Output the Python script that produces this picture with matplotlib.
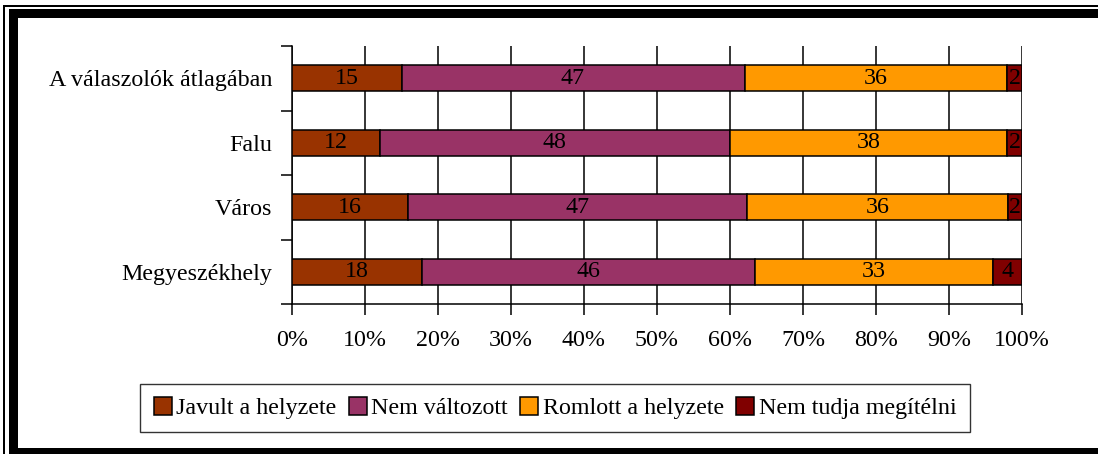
import numpy as np
import matplotlib
matplotlib.use('Agg')
import matplotlib.pyplot as plt
from matplotlib.patches import Rectangle

# ============================================================
# Data
# ============================================================
categories = ['A válaszolók átlagában', 'Falu', 'Város', 'Megyeszékhely']
series_names = ['Javult a helyzete', 'Nem változott', 'Romlott a helyzete', 'Nem tudja megítélni']
javult = [15, 12, 16, 18]
nem_valt = [47, 48, 47, 46]
romlott = [36, 38, 36, 33]
nem_tudja = [2, 2, 2, 4]
colors = ['#993300', '#993366', '#FF9900', '#800000']
xticks = [0, 10, 20, 30, 40, 50, 60, 70, 80, 90, 100]

plt.rcParams['font.family'] = ['Liberation Serif', 'DejaVu Serif']
FS = 17.3

W, H = 1098, 454
fig = plt.figure(figsize=(W / 100, H / 100), dpi=100)

def px(x0, y0, x1, y1):
    # pixel box -> figure fraction rect
    return (x0 / W, 1 - y1 / H), (x1 - x0) / W, (y1 - y0) / H

# outer frame: thin line + thick band
for (x0, y0, x1, y1) in [(3, 5, 4.5, 460), (3, 5, 1100, 6.5),
                         (9, 9, 18, 460), (9, 9, 1100, 18), (9, 448, 1100, 460)]:
    xy, w, h = px(x0, y0, x1, y1)
    fig.patches.append(Rectangle(xy, w, h, transform=fig.transFigure,
                                 facecolor='black', edgecolor='none'))

ax = fig.add_axes([292 / W, 1 - 304 / H, (1022 - 292) / W, (304 - 46) / H])

data = np.array([javult, nem_valt, romlott, nem_tudja], dtype=float)
totals = data.sum(axis=0)
pct = data / totals * 100

ypos = np.arange(len(categories))
left = np.zeros(len(categories))
for i, name in enumerate(series_names):
    bars = ax.barh(ypos, pct[i], left=left, height=0.4, color=colors[i],
                   edgecolor='black', linewidth=1.1, label=name, zorder=3)
    for j, b in enumerate(bars):
        ax.text(left[j] + pct[i][j] / 2, ypos[j], str(int(data[i][j])),
                ha='center', va='center', fontsize=FS, zorder=4)
    left += pct[i]

ax.set_xlim(0, 100)
ax.set_ylim(len(categories) - 0.5, -0.5)
ax.set_xticks(xticks)
ax.set_xticklabels([f'{t}%' for t in xticks], fontsize=FS)
ax.set_yticks(ypos)
ax.set_yticklabels(categories, fontsize=FS)
ax.set_yticks(np.arange(-0.5, len(categories)), minor=True)

ax.tick_params(axis='y', which='major', length=0, pad=14)
ax.tick_params(axis='y', which='minor', length=8, width=1.1, direction='out')
ax.tick_params(axis='x', which='major', length=8, width=1.1, direction='out', pad=11)

ax.xaxis.grid(True, color='black', linewidth=1.1, zorder=0)
ax.set_axisbelow(True)
for s in ['top', 'right']:
    ax.spines[s].set_visible(False)
for s in ['left', 'bottom']:
    ax.spines[s].set_linewidth(1.1)

handles, labels = ax.get_legend_handles_labels()
leg = fig.legend(handles, labels, loc='center', bbox_to_anchor=(555 / W, 1 - 408 / H),
                 ncol=4, fontsize=FS, frameon=True, fancybox=False,
                 handlelength=0.75, handleheight=0.75, handletextpad=0.2,
                 columnspacing=0.5, borderpad=0.55, borderaxespad=0)
leg.get_frame().set_edgecolor('black')
leg.get_frame().set_linewidth(1.0)

fig.savefig('out.png', dpi=100)
